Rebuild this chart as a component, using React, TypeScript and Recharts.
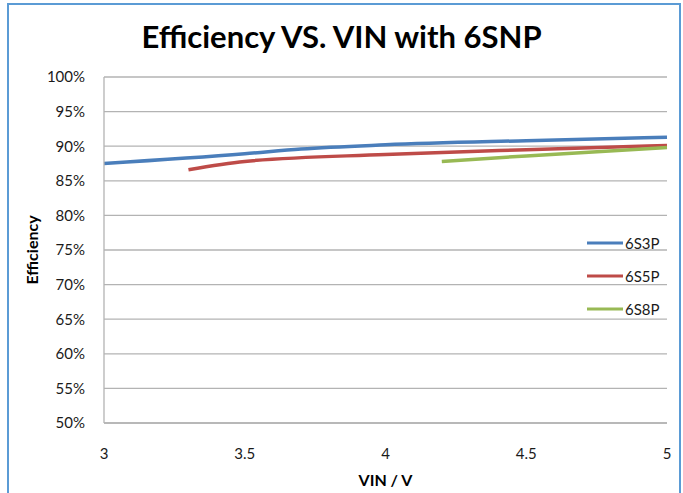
import React from "react";
import { CartesianGrid, Legend, Line, LineChart, XAxis, YAxis } from "recharts";

// VIN (V) / efficiency (%)
const vin3P = [3.0, 3.5, 3.7, 4.0, 4.5, 5.0];
const eff3P = [87.5, 88.9, 89.6, 90.2, 90.8, 91.3];

const vin5P = [3.3, 3.5, 4.0, 4.5, 5.0];
const eff5P = [86.6, 87.8, 88.8, 89.5, 90.1];

const vin8P = [4.2, 4.5, 5.0];
const eff8P = [87.8, 88.6, 89.8];

const xTicks = [3, 3.5, 4, 4.5, 5];
const yTicks = [50, 55, 60, 65, 70, 75, 80, 85, 90, 95, 100];

const FONT = "Lato, 'Open Sans', sans-serif";

const zip = (xs: number[], ys: number[]) => xs.map((v, i) => ({ vin: v, eff: ys[i] }));

const series = [
  { name: "6S3P", color: "#4a7ebb", data: zip(vin3P, eff3P) },
  { name: "6S5P", color: "#be4b48", data: zip(vin5P, eff5P) },
  { name: "6S8P", color: "#98b954", data: zip(vin8P, eff8P) }
];

function LegendBox(props: any) {
  const items = props.payload ?? [];
  return (
    <div style={{ fontFamily: FONT, fontSize: 15, color: "#1a1a1a" }}>
      {items.map((it: any) => (
        <div key={it.value} style={{ height: 33, display: "flex", alignItems: "center" }}>
          <svg width={38} height={6}>
            <line x1={0} y1={3} x2={36} y2={3} stroke={it.color} strokeWidth={3} />
          </svg>
          <span>{it.value}</span>
        </div>
      ))}
    </div>
  );
}

export default function App() {
  return (
    <div style={{ position: "absolute", left: 0, top: 0, width: 683, height: 493, background: "#fff", overflow: "hidden" }}>
      <div
        style={{
          position: "absolute",
          left: 7,
          top: 3,
          width: 674,
          height: 520,
          border: "2px solid #5b9bd5",
          boxSizing: "border-box"
        }}
      />
      <div
        style={{
          position: "absolute",
          left: 0,
          top: 17,
          width: 683,
          textAlign: "center",
          fontFamily: FONT,
          fontWeight: 700,
          fontSize: 31,
          color: "#000"
        }}
      >
        Efficiency VS. VIN with 6SNP
      </div>
      <LineChart
        width={683}
        height={493}
        margin={{ top: 77, right: 16, bottom: 0, left: 0 }}
        style={{ position: "absolute", left: 0, top: 0 }}
      >
        <CartesianGrid vertical={false} stroke="#b3b3b3" strokeWidth={1.3} />
        <XAxis
          type="number"
          dataKey="vin"
          domain={[3, 5]}
          ticks={xTicks}
          allowDuplicatedCategory={false}
          height={70}
          tickSize={0}
          tickMargin={25}
          tickLine={false}
          axisLine={{ stroke: "#b3b3b3", strokeWidth: 1.3 }}
          tick={{ fontFamily: FONT, fontSize: 15, fill: "#1a1a1a" }}
          label={{
            value: "VIN / V",
            position: "insideBottom",
            offset: 7,
            style: { fontFamily: FONT, fontSize: 16, fontWeight: 700, fill: "#000" }
          }}
        />
        <YAxis
          type="number"
          dataKey="eff"
          domain={[50, 100]}
          ticks={yTicks}
          width={104}
          tickSize={0}
          tickMargin={19}
          tickLine={false}
          axisLine={{ stroke: "#b3b3b3", strokeWidth: 1.3 }}
          tickFormatter={(v: number) => `${v}%`}
          tick={{ fontFamily: FONT, fontSize: 15, fill: "#1a1a1a" }}
          label={{
            content: (p: any) => {
              const vb = p.viewBox;
              const cx = vb.x + 31;
              const cy = vb.y + vb.height / 2;
              return (
                <text
                  x={cx}
                  y={cy}
                  transform={`rotate(-90, ${cx}, ${cy})`}
                  textAnchor="middle"
                  dominantBaseline="central"
                  style={{ fontFamily: FONT, fontSize: 16, fontWeight: 700, fill: "#000" }}
                >
                  Efficiency
                </text>
              );
            }
          }}
        />
        <Legend
          layout="vertical"
          align="center"
          verticalAlign="middle"
          content={<LegendBox />}
          wrapperStyle={{ left: 587, top: 226, width: 90 }}
        />
        {series.map((s) => (
          <Line
            key={s.name}
            name={s.name}
            data={s.data}
            dataKey="eff"
            type="monotone"
            stroke={s.color}
            strokeWidth={3.5}
            dot={false}
            isAnimationActive={false}
          />
        ))}
      </LineChart>
    </div>
  );
}
